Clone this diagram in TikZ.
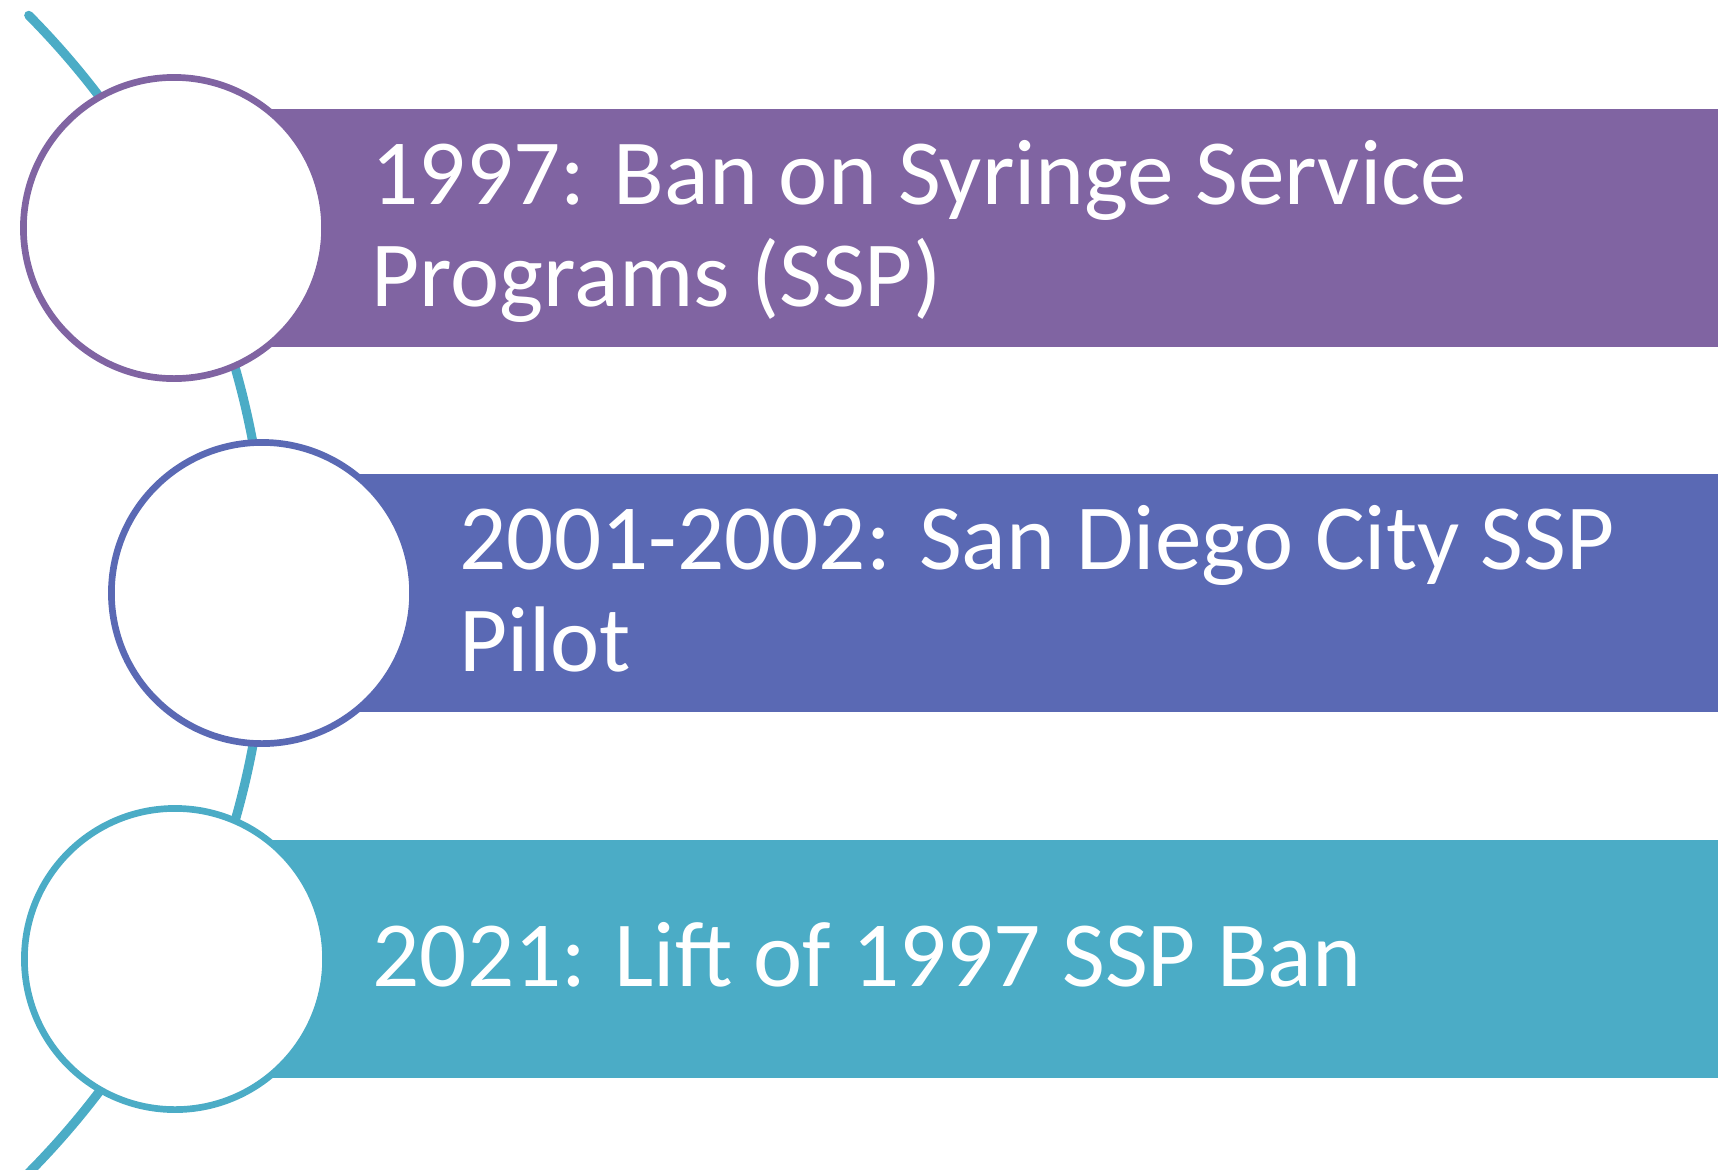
\documentclass[tikz,border=0pt]{standalone}
\usepackage{fontspec}
\setmainfont{Carlito}
\usetikzlibrary{positioning}
\definecolor{stepPurple}{HTML}{8064A2}
\definecolor{stepBlue}{HTML}{5A69B4}
\definecolor{stepTeal}{HTML}{4BACC6}
\tikzset{
    stepcirc/.style={draw=#1, fill=white, circle, line width=1.9pt, minimum size=3.01cm, inner sep=0pt},
    steptext/.style={text=white, font=\fontsize{26.5}{29}\selectfont, align=left, inner sep=0pt, text depth=0pt, yshift=0.05cm}
}

\begin{document}
\begin{tikzpicture}[x=0.01cm, y=-0.01cm]
    \def \R {822}
    \useasboundingbox (0,0) rectangle (1718,1169);
    \coordinate (m1) at (174, 228);
    \coordinate (m2) at (262, 593);
    \coordinate (m3) at (175, 959);
    \coordinate (o) at (-555, 594);
    % timeline arc
    \draw[stepTeal, line width=2.6pt, line cap=round] (o) ++(-44.75:\R) arc (-44.75:47:\R);
    % bars
    \fill[stepPurple] (174, 109) rectangle (1718, 347);
    \fill[stepBlue] (262, 474) rectangle (1718, 712);
    \fill[stepTeal] (175, 840) rectangle (1718, 1078);
    % circles
    \node[stepcirc=stepPurple] (c1) at (m1) {};
    \node[stepcirc=stepBlue] (c2) at (m2) {};
    \node[stepcirc=stepTeal] (c3) at (m3) {};
    \node[steptext, right=0.43cm of c1] (t1) {1997: Ban on Syringe Service\\Programs (SSP)};
    \node[steptext, right=0.43cm of c2] (t2) {2001-2002: San Diego City SSP\\Pilot};
    \node[steptext, right=0.43cm of c3] (t3) {2021: Lift of 1997 SSP Ban};
\end{tikzpicture}
\end{document}
